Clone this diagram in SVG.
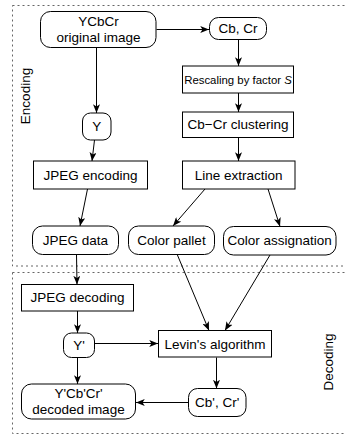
<svg xmlns="http://www.w3.org/2000/svg" width="345" height="436" viewBox="0 0 345 436">
<style>
text{font-family:"Liberation Sans",Arial,sans-serif;font-size:13.5px;fill:#000;text-anchor:middle}
.small{font-size:11.4px}
.box{fill:#fff;stroke:#000;stroke-width:1}
.region{fill:none;stroke:#666;stroke-width:1;stroke-dasharray:2,3}
.edge{fill:none;stroke:#000;stroke-width:1;marker-end:url(#arr)}
</style>
<defs>
<marker id="arr" viewBox="0 0 10 8" refX="10" refY="4" markerWidth="9" markerHeight="7" markerUnits="userSpaceOnUse" orient="auto">
<path d="M0,0 L10,4 L0,8 L2.5,4 Z" fill="#000"/>
</marker>
</defs>
<g id="regions">
<rect class="region" x="12.5" y="5.5" width="345" height="260.5"/>
<rect class="region" x="12.5" y="272.5" width="345" height="161"/>
<text transform="translate(30,96) rotate(-90)">Encoding</text>
<text transform="translate(333,362) rotate(-90)">Decoding</text>
</g>
<g id="connectors">
<path class="edge" d="M156.5,29.5 L209,29.5"/>
<path class="edge" d="M96.5,47.5 L96.5,113"/>
<path class="edge" d="M238.5,39.5 L238.5,66"/>
<path class="edge" d="M238.5,93 L238.5,112"/>
<path class="edge" d="M238.5,137.5 L238.5,161"/>
<path class="edge" d="M94.5,140 L92,161"/>
<path class="edge" d="M87.5,189 L80,226"/>
<path class="edge" d="M205,189 L173,226"/>
<path class="edge" d="M268,189 L280,226.5"/>
<path class="edge" d="M76.5,254.5 L77,284.5"/>
<path class="edge" d="M177,254 L209,330.5"/>
<path class="edge" d="M270,255 L225,330.5"/>
<path class="edge" d="M77.5,311 L77.5,333"/>
<path class="edge" d="M77.5,357.5 L77.5,384"/>
<path class="edge" d="M94.5,343.5 L158,343.5"/>
<path class="edge" d="M216.5,357.5 L216.5,388.5"/>
<path class="edge" d="M188.5,402.5 L136,402.5"/>
</g>
<g id="ycbcr">
<rect class="box" x="40.5" y="11.5" width="115.5" height="36" rx="10"/>
<text x="98.5" y="26">YCbCr</text>
<text x="98.5" y="42">original image</text>
</g>
<g id="cbcr">
<rect class="box" x="209.5" y="17.5" width="57" height="22" rx="9"/>
<text x="238" y="33">Cb, Cr</text>
</g>
<g id="rescaling">
<rect class="box" x="182.5" y="66" width="111" height="27"/>
<text class="small" x="238" y="83.5">Rescaling by factor <tspan font-style="italic">S</tspan></text>
</g>
<g id="clustering">
<rect class="box" x="182.5" y="112" width="111" height="25.5"/>
<text x="238" y="129.3">Cb−Cr clustering</text>
</g>
<g id="line-extraction">
<rect class="box" x="182.5" y="161" width="112.5" height="28"/>
<text x="238.7" y="179.8">Line extraction</text>
</g>
<g id="y">
<rect class="box" x="82.5" y="113" width="28.5" height="27" rx="8"/>
<text x="96.7" y="131.3">Y</text>
</g>
<g id="jpeg-encoding">
<rect class="box" x="33.5" y="161" width="114" height="28"/>
<text x="90.5" y="179.8">JPEG encoding</text>
</g>
<g id="jpeg-data">
<rect class="box" x="32.5" y="226" width="86" height="28.5" rx="10"/>
<text x="75.5" y="244.8">JPEG data</text>
</g>
<g id="color-pallet">
<rect class="box" x="128.5" y="226" width="86" height="28.5" rx="10"/>
<text x="171.5" y="244.8">Color pallet</text>
</g>
<g id="color-assignation">
<rect class="box" x="223.5" y="226.5" width="112.5" height="28.5" rx="10"/>
<text x="279.7" y="245.2">Color assignation</text>
</g>
<g id="jpeg-decoding">
<rect class="box" x="21.5" y="284.5" width="112" height="26.5"/>
<text x="77.5" y="302.3">JPEG decoding</text>
</g>
<g id="y-prime">
<rect class="box" x="63.5" y="333" width="31" height="24.5" rx="8"/>
<text x="79" y="349.8">Y'</text>
</g>
<g id="levin">
<rect class="box" x="158.5" y="330.5" width="113" height="26.5"/>
<text x="215" y="348.8">Levin's algorithm</text>
</g>
<g id="cbcr-prime">
<rect class="box" x="188.5" y="388.5" width="57.5" height="28" rx="9"/>
<text x="217.2" y="407.3">Cb', Cr'</text>
</g>
<g id="decoded">
<rect class="box" x="21.5" y="384" width="114" height="35" rx="10"/>
<text x="78.5" y="398.3">Y'Cb'Cr'</text>
<text x="78.5" y="414.3">decoded image</text>
</g>
</svg>
